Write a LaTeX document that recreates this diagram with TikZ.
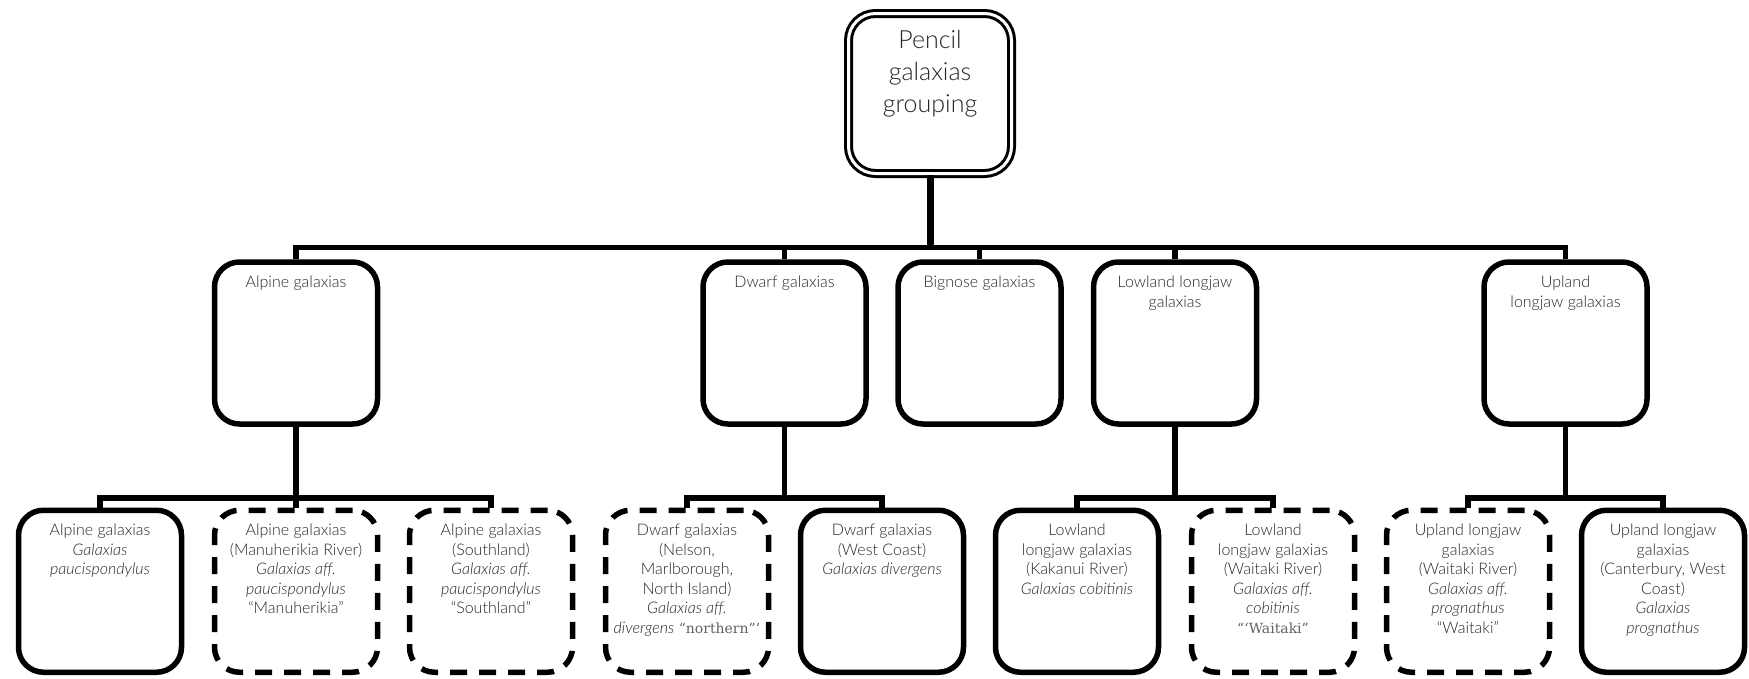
\documentclass[tikz,border=0pt]{standalone}
\usepackage{fontspec}
\setmainfont{Lato}[UprightFont={* Light},ItalicFont={* Light Italic}]
\newfontfamily\slabfont{DejaVu Serif}
\newcommand{\slabquote}[1]{{\slabfont\fontsize{14}{19.5}\selectfont\color{black!62}#1}}
\begin{document}
\begin{tikzpicture}[x=1pt,y=-1pt,
  box/.style={draw, rounded corners=25pt, line width=5.5pt,
    minimum width=163pt, minimum height=162pt, inner sep=0pt},
  dbox/.style={box, dash pattern=on 17pt off 12pt},
  rootbox/.style={draw, rounded corners=27pt, line width=3pt,
    double, double distance=3pt,
    minimum width=163pt, minimum height=160pt, inner sep=0pt},
  txt/.style={anchor=north, align=center, inner sep=0pt, text=black!85,
    font=\fontsize{16}{19.5}\selectfont},
  roottxt/.style={anchor=north, align=center, inner sep=0pt, text=black!85,
    font=\fontsize{25}{32}\selectfont},
  conn/.style={line width=5.5pt},
  trunk/.style={line width=7pt}]
\useasboundingbox (0,0) rectangle (1749,678);

% root
\node[rootbox] (top) at (930,93.5) {};
\node[roottxt] (top-t) at ([yshift=-17.8pt]top.north) {Pencil\\galaxias\\grouping};

% groups
\node[box] (alp) at (296,343) {};
\node[box] (dwf) at (784.5,343) {};
\node[box] (big) at (979.5,343) {};
\node[box] (low) at (1175,343) {};
\node[box] (upl) at (1565.5,343) {};
\node[txt] (alp-t) at ([yshift=-16.5pt]alp.north) {Alpine galaxias};
\node[txt] (dwf-t) at ([yshift=-16.5pt]dwf.north) {Dwarf galaxias};
\node[txt] (big-t) at ([yshift=-16.5pt]big.north) {Bignose galaxias};
\node[txt] (low-t) at ([yshift=-16.5pt]low.north) {Lowland longjaw\\galaxias};
\node[txt] (upl-t) at ([yshift=-16.5pt]upl.north) {Upland\\longjaw galaxias};

% taxa
\node[box]  (a1) at (100,591.25) {};
\node[dbox] (a2) at (296,591.25) {};
\node[dbox] (a3) at (491,591.25) {};
\node[dbox] (d1) at (687,591.25) {};
\node[box]  (d2) at (882,591.25) {};
\node[box]  (l1) at (1077,591.25) {};
\node[dbox] (l2) at (1273,591.25) {};
\node[dbox] (u1) at (1468,591.25) {};
\node[box]  (u2) at (1663,591.25) {};

\node[txt] (a1-t) at ([yshift=-16.5pt]a1.north)
  {Alpine galaxias\\\textit{Galaxias}\\\textit{paucispondylus}};
\node[txt] (a2-t) at ([yshift=-16.5pt]a2.north)
  {Alpine galaxias\\(Manuherikia River)\\\textit{Galaxias aff.}\\\textit{paucispondylus}\\“Manuherikia”};
\node[txt] (a3-t) at ([yshift=-16.5pt]a3.north)
  {Alpine galaxias\\(Southland)\\\textit{Galaxias aff.}\\\textit{paucispondylus}\\“Southland”};
\node[txt] (d1-t) at ([yshift=-16.5pt]d1.north)
  {Dwarf galaxias\\(Nelson,\\Marlborough,\\North Island)\\\textit{Galaxias aff.}\\\textit{divergens} \slabquote{“northern”’}};
\node[txt] (d2-t) at ([yshift=-16.5pt]d2.north)
  {Dwarf galaxias\\(West Coast)\\\textit{Galaxias divergens}};
\node[txt] (l1-t) at ([yshift=-16.5pt]l1.north)
  {Lowland\\longjaw galaxias\\(Kakanui River)\\\textit{Galaxias cobitinis}};
\node[txt] (l2-t) at ([yshift=-16.5pt]l2.north)
  {Lowland\\longjaw galaxias\\(Waitaki River)\\\textit{Galaxias aff.}\\\textit{cobitinis}\\\slabquote{“‘Waitaki”}};
\node[txt] (u1-t) at ([yshift=-16.5pt]u1.north)
  {Upland longjaw\\galaxias\\(Waitaki River)\\\textit{Galaxias aff.}\\\textit{prognathus}\\“Waitaki”};
\node[txt] (u2-t) at ([yshift=-16.5pt]u2.north)
  {Upland longjaw\\galaxias\\(Canterbury, West\\Coast)\\\textit{Galaxias}\\\textit{prognathus}};

% connectors
\coordinate (bus0) at (930,247.5);
\coordinate (bus1) at (930,498);
\draw[trunk] (top.south) -- (top.south |- bus0);
\draw[conn] (alp.north) -- (alp.north |- bus0) -| (upl.north);
\foreach \n in {dwf,big,low} \draw[conn] (\n.north) -- (\n.north |- bus0);

\draw[conn] (alp.south) -- (alp.south |- bus1);
\draw[conn] (a1.north) -- (a1.north |- bus1) -| (a3.north);
\draw[conn] (a2.north) -- (a2.north |- bus1);

\draw[conn] (dwf.south) -- (dwf.south |- bus1);
\draw[conn] (d1.north) -- (d1.north |- bus1) -| (d2.north);

\draw[conn] (low.south) -- (low.south |- bus1);
\draw[conn] (l1.north) -- (l1.north |- bus1) -| (l2.north);

\draw[conn] (upl.south) -- (upl.south |- bus1);
\draw[conn] (u1.north) -- (u1.north |- bus1) -| (u2.north);
\end{tikzpicture}
\end{document}
